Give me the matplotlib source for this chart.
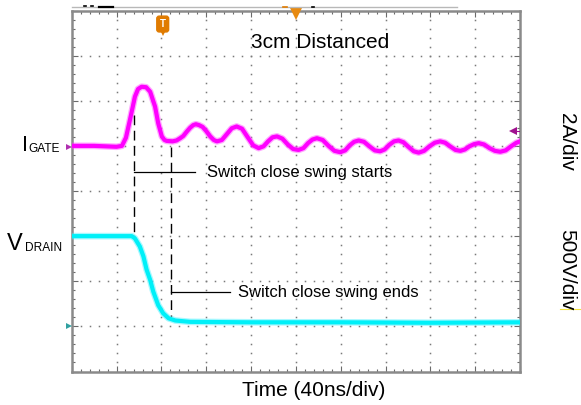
import matplotlib
matplotlib.use('Agg')
import matplotlib.pyplot as plt
from matplotlib.lines import Line2D
import numpy as np

plt.rcParams['font.family'] = ['Liberation Sans', 'DejaVu Sans']

# oscilloscope trace values, in screen divisions (x: 0..10, y: 0..8)
igate_t = [0.00, 0.50, 1.00, 1.12, 1.21, 1.30, 1.41, 1.48, 1.56, 1.66, 1.75, 1.86,
           1.93, 2.01, 2.07, 2.12, 2.25, 2.34, 2.42, 2.49, 2.57, 2.64, 2.71, 2.77,
           2.84, 2.92, 3.00, 3.09, 3.17, 3.24, 3.35, 3.46, 3.57, 3.68, 3.80, 3.92,
           4.05, 4.17, 4.28, 4.38, 4.48, 4.58, 4.70, 4.82, 4.94, 5.06, 5.17, 5.27,
           5.37, 5.47, 5.60, 5.73, 5.86, 5.99, 6.10, 6.20, 6.30, 6.40, 6.52, 6.64,
           6.76, 6.88, 6.98, 7.08, 7.19, 7.29, 7.40, 7.51, 7.63, 7.74, 7.86, 7.98,
           8.10, 8.22, 8.33, 8.44, 8.56, 8.67, 8.77, 8.87, 8.98, 9.08, 9.20, 9.32,
           9.44, 9.56, 9.68, 9.80, 9.92, 10.00]
igate_v = [5.00, 5.00, 4.98, 5.00, 5.18, 5.58, 6.09, 6.26, 6.31, 6.30, 6.20, 5.87,
           5.50, 5.21, 5.13, 5.11, 5.10, 5.12, 5.17, 5.22, 5.32, 5.40, 5.46, 5.48,
           5.46, 5.42, 5.33, 5.21, 5.13, 5.10, 5.13, 5.26, 5.39, 5.43, 5.38, 5.20,
           5.01, 4.95, 4.99, 5.10, 5.19, 5.21, 5.16, 5.03, 4.93, 4.91, 4.95, 5.06,
           5.14, 5.17, 5.13, 5.00, 4.89, 4.86, 4.90, 5.01, 5.09, 5.12, 5.09, 4.99,
           4.90, 4.88, 4.92, 5.02, 5.10, 5.12, 5.08, 4.98, 4.88, 4.85, 4.89, 4.99,
           5.07, 5.10, 5.07, 4.99, 4.91, 4.89, 4.92, 4.99, 5.04, 5.06, 5.03, 4.95,
           4.89, 4.87, 4.90, 4.99, 5.07, 5.10]

vdrain_t = [0.00, 0.60, 1.34, 1.41, 1.52, 1.60, 1.67, 1.75, 1.82, 1.93, 2.04, 2.16,
            2.31, 2.64, 4.00, 6.00, 8.00, 10.00]
vdrain_v = [3.00, 3.00, 3.00, 2.95, 2.77, 2.55, 2.26, 2.03, 1.77, 1.47, 1.29, 1.18,
            1.13, 1.10, 1.09, 1.09, 1.08, 1.09]

# annotation markers (divisions)
swing_start_t = 1.40
swing_end_t = 2.22
title_text = '3cm Distanced'
start_label = 'Switch close swing starts'
end_label = 'Switch close swing ends'
x_label = 'Time (40ns/div)'
scale_labels = ['2A/div', '500V/div']

W, H = 581, 405
fig = plt.figure(figsize=(W / 100, H / 100), dpi=100)
fig.patch.set_facecolor('white')

# screen area in pixels
x0, x1, y0, y1 = 71.7, 520.0, 10.5, 371.5
ax = fig.add_axes([x0 / W, 1 - y1 / H, (x1 - x0) / W, (y1 - y0) / H])
ax.set_xlim(0, 10)
ax.set_ylim(0, 8)

for sp in ax.spines.values():
    sp.set_color('#8a8a8a')
    sp.set_linewidth(1.8)
ax.set_xticks(np.arange(0, 11, 1))
ax.set_yticks(np.arange(0, 9, 1))
ax.set_xticks(np.arange(0, 10.01, 0.2), minor=True)
ax.set_yticks(np.arange(0, 8.01, 0.2), minor=True)
ax.tick_params(which='both', direction='in', top=True, right=True,
               labelbottom=False, labelleft=False, color='#6a6a6a', width=0.8)
ax.tick_params(which='major', length=4)
ax.tick_params(which='minor', length=2.5)

# dotted graticule
gx, gy = [], []
for k in range(1, 10):
    for y in np.arange(0.2, 8.0, 0.2):
        gx.append(k); gy.append(y)
for k in range(1, 8):
    for x in np.arange(0.2, 10.0, 0.2):
        gx.append(x); gy.append(k)
ax.plot(gx, gy, linestyle='none', marker='s', ms=1.1, mew=0, color='#7a7a7a', zorder=1)

# traces
ax.plot(igate_t, igate_v, color='#ff40ff', lw=4.8, alpha=0.45, solid_joinstyle='round', zorder=3)
ax.plot(igate_t, igate_v, color='#ff00ff', lw=3.0, solid_joinstyle='round', zorder=4)
ax.plot(vdrain_t, vdrain_v, color='#40f0ff', lw=4.8, alpha=0.45, solid_joinstyle='round', zorder=3)
ax.plot(vdrain_t, vdrain_v, color='#00f0f8', lw=3.0, solid_joinstyle='round', zorder=4)

# dashed markers and callouts
ax.plot([swing_start_t, swing_start_t], [5.69, 3.07], color='black', lw=1.0,
        dashes=(7, 4), zorder=5)
ax.plot([swing_end_t, swing_end_t], [4.97, 1.23], color='black', lw=1.0,
        dashes=(7, 4), zorder=5)
ax.plot([swing_start_t, 2.75], [4.42, 4.42], color='black', lw=0.9, zorder=5)
ax.plot([swing_end_t, 3.54], [1.76, 1.76], color='black', lw=0.9, zorder=5)
ax.text(3.01, 4.42, start_label, fontsize=12, va='center', ha='left', zorder=6)
ax.text(3.72, 1.76, end_label, fontsize=12, va='center', ha='left', zorder=6)
ax.text(5.55, 7.30, title_text, fontsize=15, va='center', ha='center', zorder=6)

# scope markers
ax.text(2.03, 7.70, 'T', fontsize=7, color='white', fontweight='bold', ha='center',
        va='center', zorder=7,
        bbox=dict(boxstyle='round,pad=0.3,rounding_size=0.25', fc='#e07b00', ec='#e07b00'))
ax.plot(2.03, 7.50, marker='v', ms=5, color='#e07b00', mew=0, zorder=7)
ax.plot(5.0, 7.93, marker='v', ms=8, color='#e88a10', mew=0, clip_on=False, zorder=7)
ax.plot(9.85, 5.33, marker='<', ms=6, color='#a0108f', mew=0, zorder=7)
ax.plot([9.85, 10.0], [5.33, 5.33], color='#a0108f', lw=0.8, zorder=7)
ax.plot(-0.06, 4.97, marker='>', ms=4.5, color='#b030b0', mew=0, clip_on=False, zorder=7)
ax.plot(-0.06, 1.0, marker='>', ms=4.5, color='#30a0a0', mew=0, clip_on=False, zorder=7)

# remnants of scope toolbar above the screen
def px_line(xa, xb, ya, yb, **kw):
    fig.add_artist(Line2D([xa / W, xb / W], [1 - ya / H, 1 - yb / H], **kw))

px_line(72, 457, 7, 7, color='#b8b8b8', lw=1.0)
px_line(99, 113, 6.5, 6.5, color='black', lw=1.6)
px_line(84, 86, 6, 6, color='black', lw=1.2)
px_line(91, 93, 6, 6, color='black', lw=1.2)
px_line(283, 287, 6.5, 6.5, color='#e07b00', lw=1.2)
px_line(312, 314, 6.5, 6.5, color='black', lw=1.2)
px_line(560, 580, 309, 309, color='#f0e040', lw=0.8)

# channel labels
fig.text(22 / W, 1 - 151 / H, 'I', fontsize=15.5, va='baseline', ha='left')
fig.text(28 / W, 1 - 152.5 / H, 'GATE', fontsize=8.6, va='baseline', ha='left')
fig.text(6.5 / W, 1 - 249.5 / H, 'V', fontsize=17, va='baseline', ha='left')
fig.text(25.5 / W, 1 - 251 / H, 'DRAIN', fontsize=8.6, va='baseline', ha='left')

fig.text(567 / W, 1 - 142 / H, scale_labels[0], fontsize=15, rotation=270,
         ha='center', va='center')
fig.text(567 / W, 1 - 270 / H, scale_labels[1], fontsize=15, rotation=270,
         ha='center', va='center')

fig.text(313.5 / W, 1 - 396.5 / H, x_label, fontsize=15, ha='center', va='baseline')

fig.savefig('out.png', dpi=100, facecolor='white')
